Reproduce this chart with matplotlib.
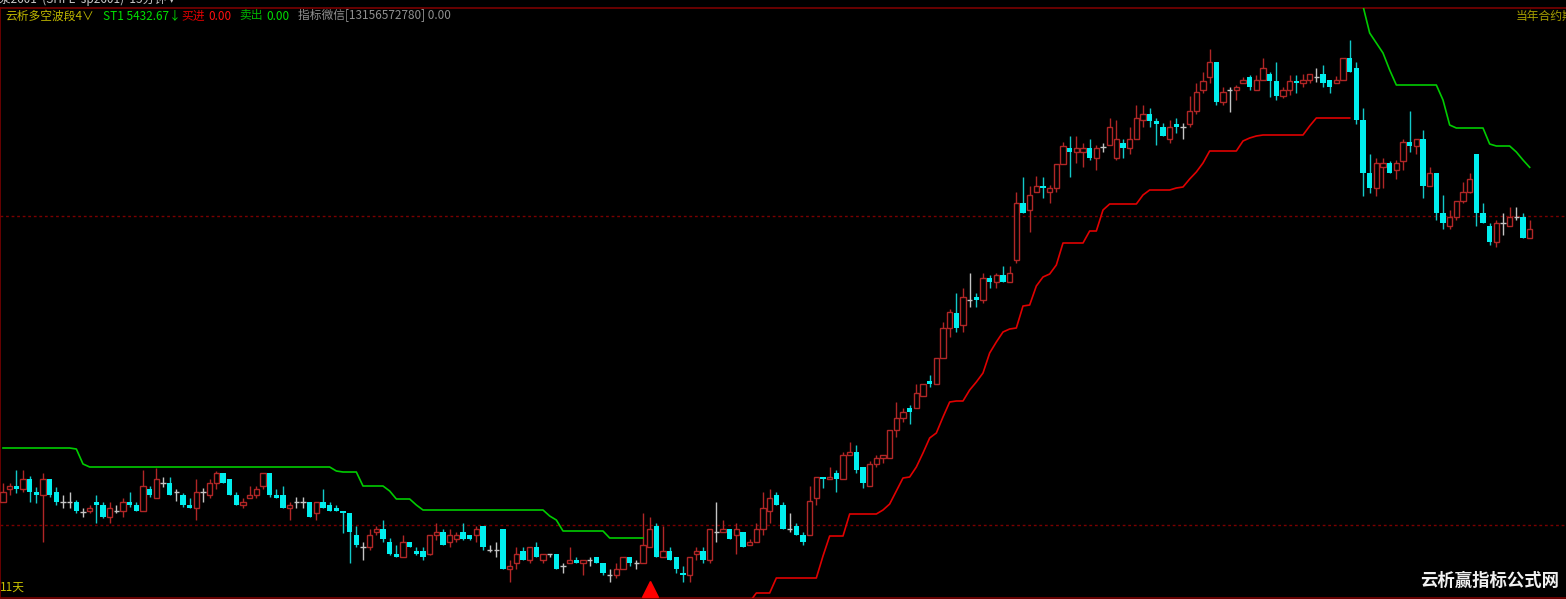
import numpy as np
import matplotlib
matplotlib.use('Agg')
from matplotlib import pyplot as plt
import matplotlib.transforms as mtransforms

plt.rcParams['font.family'] = ['Noto Sans CJK SC', 'DejaVu Sans']

# ---- 15 minute bars ----
opens = [
    5098, 5111, 5114, 5111, 5121, 5108, 5105, 5121, 5108, 5098,
    5098, 5098, 5088, 5089, 5098, 5095, 5083, 5089, 5089, 5098,
    5095, 5089, 5111, 5102, 5117, 5117, 5108, 5105, 5095, 5092,
    5108, 5105, 5117, 5127, 5121, 5105, 5095, 5102, 5105, 5114,
    5127, 5105, 5105, 5092, 5098, 5098, 5098, 5087, 5098, 5095,
    5092, 5089, 5087, 5065, 5053, 5053, 5068, 5071, 5058, 5046,
    5043, 5058, 5049, 5049, 5046, 5065, 5068, 5058, 5061, 5068,
    5065, 5065, 5074, 5050, 5050, 5071, 5031, 5037, 5049, 5040,
    5053, 5040, 5046, 5046, 5034, 5037, 5040, 5037, 5040, 5043,
    5037, 5025, 5025, 5031, 5043, 5037, 5037, 5053, 5074, 5043,
    5049, 5043, 5027, 5025, 5046, 5049, 5040, 5068, 5068, 5071,
    5065, 5068, 5055, 5058, 5071, 5089, 5105, 5095, 5071, 5074,
    5065, 5065, 5102, 5123, 5121, 5127, 5121, 5145, 5148, 5133,
    5114, 5136, 5142, 5142, 5170, 5182, 5192, 5192, 5204, 5219,
    5216, 5242, 5272, 5287, 5275, 5300, 5303, 5300, 5322, 5318,
    5325, 5318, 5340, 5397, 5390, 5408, 5414, 5408, 5412, 5436,
    5452, 5448, 5448, 5452, 5442, 5453, 5455, 5442, 5457, 5452,
    5461, 5480, 5486, 5479, 5473, 5461, 5476, 5473, 5476, 5489,
    5510, 5523, 5538, 5498, 5510, 5510, 5517, 5523, 5510, 5520,
    5526, 5519, 5504, 5510, 5519, 5517, 5520, 5523, 5526, 5520,
    5517, 5520, 5542, 5532, 5480, 5427, 5412, 5433, 5437, 5430,
    5439, 5458, 5454, 5461, 5414, 5427, 5387, 5374, 5383, 5399,
    5408, 5446, 5387, 5374, 5358, 5377, 5374, 5383, 5383, 5362,
]
highs = [
    5117, 5117, 5130, 5130, 5124, 5113, 5127, 5121, 5113, 5105,
    5108, 5100, 5092, 5095, 5105, 5098, 5098, 5095, 5102, 5108,
    5098, 5130, 5114, 5132, 5123, 5123, 5111, 5107, 5102, 5121,
    5112, 5121, 5129, 5127, 5121, 5108, 5102, 5114, 5114, 5127,
    5127, 5111, 5114, 5098, 5103, 5103, 5098, 5098, 5111, 5098,
    5095, 5089, 5087, 5074, 5058, 5071, 5074, 5080, 5062, 5055,
    5065, 5058, 5053, 5053, 5065, 5077, 5071, 5071, 5068, 5077,
    5065, 5074, 5074, 5055, 5058, 5071, 5040, 5053, 5053, 5053,
    5058, 5046, 5046, 5046, 5037, 5053, 5043, 5040, 5043, 5043,
    5037, 5031, 5037, 5043, 5043, 5040, 5087, 5083, 5077, 5074,
    5053, 5043, 5034, 5043, 5053, 5053, 5071, 5098, 5080, 5071,
    5077, 5068, 5061, 5077, 5108, 5111, 5108, 5098, 5087, 5077,
    5068, 5114, 5123, 5123, 5133, 5130, 5148, 5158, 5155, 5133,
    5139, 5145, 5145, 5170, 5198, 5192, 5195, 5216, 5216, 5225,
    5242, 5278, 5291, 5307, 5312, 5327, 5307, 5327, 5325, 5327,
    5334, 5334, 5408, 5423, 5414, 5424, 5423, 5415, 5436, 5458,
    5464, 5464, 5457, 5461, 5455, 5457, 5482, 5480, 5461, 5473,
    5495, 5495, 5492, 5482, 5477, 5480, 5482, 5477, 5504, 5517,
    5528, 5551, 5538, 5513, 5513, 5515, 5523, 5525, 5525, 5542,
    5528, 5538, 5513, 5525, 5525, 5526, 5526, 5532, 5535, 5520,
    5524, 5542, 5560, 5538, 5492, 5446, 5442, 5442, 5439, 5440,
    5461, 5489, 5461, 5470, 5433, 5427, 5405, 5390, 5399, 5418,
    5427, 5446, 5397, 5377, 5380, 5387, 5393, 5393, 5387, 5380,
]
lows = [
    5098, 5105, 5107, 5108, 5098, 5097, 5058, 5103, 5095, 5092,
    5092, 5087, 5083, 5087, 5077, 5082, 5077, 5087, 5083, 5093,
    5089, 5089, 5103, 5102, 5113, 5105, 5099, 5093, 5092, 5080,
    5098, 5102, 5111, 5117, 5105, 5095, 5092, 5102, 5102, 5111,
    5103, 5102, 5092, 5080, 5092, 5092, 5083, 5080, 5092, 5089,
    5089, 5067, 5037, 5053, 5040, 5050, 5065, 5058, 5045, 5043,
    5043, 5053, 5045, 5040, 5045, 5060, 5055, 5053, 5058, 5060,
    5060, 5058, 5050, 5048, 5043, 5031, 5018, 5031, 5040, 5037,
    5043, 5037, 5043, 5031, 5027, 5037, 5037, 5025, 5034, 5037,
    5025, 5018, 5022, 5031, 5034, 5031, 5037, 5053, 5043, 5043,
    5040, 5027, 5018, 5018, 5040, 5037, 5037, 5058, 5068, 5061,
    5046, 5053, 5055, 5058, 5065, 5077, 5095, 5071, 5068, 5065,
    5055, 5065, 5095, 5112, 5121, 5108, 5121, 5145, 5127, 5112,
    5114, 5133, 5137, 5142, 5163, 5178, 5176, 5192, 5204, 5213,
    5216, 5242, 5263, 5268, 5268, 5293, 5293, 5297, 5312, 5312,
    5318, 5318, 5337, 5387, 5368, 5408, 5402, 5397, 5408, 5436,
    5423, 5437, 5433, 5440, 5430, 5448, 5455, 5440, 5442, 5446,
    5461, 5473, 5473, 5455, 5464, 5457, 5467, 5461, 5473, 5486,
    5507, 5517, 5495, 5495, 5488, 5500, 5517, 5510, 5510, 5520,
    5503, 5500, 5502, 5505, 5507, 5513, 5517, 5518, 5513, 5507,
    5517, 5520, 5528, 5476, 5404, 5407, 5404, 5412, 5427, 5421,
    5430, 5448, 5446, 5402, 5414, 5380, 5371, 5371, 5380, 5397,
    5407, 5374, 5377, 5355, 5353, 5365, 5374, 5380, 5362, 5362,
]
closes = [
    5108, 5114, 5111, 5121, 5108, 5105, 5121, 5105, 5098, 5098,
    5098, 5089, 5088, 5092, 5095, 5083, 5092, 5089, 5098, 5095,
    5089, 5114, 5105, 5121, 5117, 5105, 5108, 5095, 5092, 5108,
    5108, 5117, 5127, 5117, 5105, 5095, 5098, 5105, 5111, 5127,
    5105, 5102, 5092, 5095, 5098, 5098, 5083, 5098, 5092, 5089,
    5089, 5087, 5068, 5055, 5053, 5065, 5071, 5061, 5046, 5043,
    5058, 5053, 5046, 5043, 5065, 5068, 5055, 5065, 5065, 5061,
    5061, 5071, 5053, 5050, 5050, 5031, 5034, 5046, 5040, 5053,
    5043, 5046, 5046, 5031, 5034, 5040, 5037, 5040, 5040, 5037,
    5027, 5025, 5031, 5043, 5037, 5037, 5055, 5071, 5043, 5049,
    5040, 5031, 5025, 5043, 5049, 5040, 5071, 5068, 5071, 5061,
    5071, 5053, 5058, 5071, 5092, 5102, 5095, 5071, 5071, 5065,
    5058, 5099, 5123, 5121, 5123, 5121, 5145, 5148, 5130, 5117,
    5136, 5142, 5145, 5170, 5182, 5188, 5188, 5207, 5216, 5216,
    5242, 5272, 5288, 5272, 5303, 5300, 5300, 5322, 5318, 5325,
    5318, 5327, 5397, 5387, 5405, 5414, 5412, 5412, 5436, 5454,
    5448, 5452, 5452, 5442, 5452, 5453, 5473, 5461, 5452, 5461,
    5482, 5486, 5479, 5476, 5464, 5473, 5473, 5473, 5489, 5508,
    5519, 5538, 5498, 5508, 5510, 5513, 5520, 5513, 5520, 5532,
    5519, 5504, 5510, 5519, 5517, 5520, 5526, 5523, 5517, 5513,
    5520, 5542, 5528, 5480, 5427, 5412, 5437, 5437, 5427, 5437,
    5458, 5454, 5461, 5414, 5427, 5387, 5377, 5383, 5399, 5408,
    5421, 5387, 5377, 5358, 5377, 5377, 5383, 5383, 5362, 5371,
]

# ---- indicator lines ----
# green stop line (bars 0-96)
dn_line_a_start = 0
dn_line_a = [
    5152, 5152, 5152, 5152, 5152, 5152, 5152, 5152, 5152, 5152,
    5152, 5151, 5136, 5133, 5133, 5133, 5133, 5133, 5133, 5133,
    5133, 5133, 5133, 5133, 5133, 5133, 5133, 5133, 5133, 5133,
    5133, 5133, 5133, 5133, 5133, 5133, 5133, 5133, 5133, 5133,
    5133, 5133, 5133, 5133, 5133, 5133, 5133, 5133, 5133, 5133,
    5129, 5128, 5128, 5128, 5114, 5114, 5114, 5114, 5109, 5101,
    5101, 5101, 5095, 5090, 5090, 5090, 5090, 5090, 5090, 5090,
    5090, 5090, 5090, 5090, 5090, 5090, 5090, 5090, 5090, 5090,
    5090, 5090, 5084, 5080, 5069, 5069, 5069, 5069, 5069, 5069,
    5069, 5062, 5062, 5062, 5062, 5062, 5062,
]
# green stop line (bars 204-229)
dn_line_b_start = 204
dn_line_b = [
    5594, 5567, 5557, 5547, 5530, 5515, 5515, 5515, 5515, 5515,
    5515, 5515, 5500, 5475, 5472, 5472, 5472, 5472, 5472, 5456,
    5454, 5454, 5454, 5448, 5440, 5432.67,
]
# red support line (bars 97-202)
up_line_start = 97
up_line = [
    4960, 4960, 4960, 4960, 4960, 4960, 4960, 4960, 4972, 4972,
    4972, 4972, 4985, 4985, 4985, 4998, 5007, 5007, 5007, 5022,
    5022, 5022, 5022, 5022, 5022, 5022, 5044, 5064, 5064, 5064,
    5086, 5086, 5086, 5086, 5086, 5090, 5096, 5109, 5122, 5123,
    5133, 5147, 5162, 5167, 5183, 5198, 5199, 5199, 5210, 5218,
    5227, 5247, 5258, 5268, 5271, 5272, 5294, 5295, 5314, 5323,
    5326, 5335, 5357, 5357, 5357, 5357, 5369, 5369, 5390, 5396,
    5396, 5396, 5396, 5396, 5405, 5410, 5410, 5410, 5410, 5412,
    5413, 5421, 5428, 5437, 5449, 5449, 5449, 5449, 5449, 5459,
    5462, 5464, 5465, 5465, 5465, 5465, 5465, 5465, 5465, 5474,
    5482, 5482, 5482, 5482, 5482, 5482,
]
buy_signal = [97]
grid_levels = [5075, 5384]

W, H = 1566, 599
RED = '#b02626'
CYAN = '#00eeee'
CYAN_W = '#12c8c8'
GRAY = '#c4c4c4'
GRID = '#7a0000'

o = np.array(opens, float)
h = np.array(highs, float)
l = np.array(lows, float)
c = np.array(closes, float)
n = len(c)
x = np.arange(n)

fig = plt.figure(figsize=(W / 100, H / 100), dpi=100, facecolor='black')
ax = fig.add_axes([0, 1.3 / H, 1, 589.7 / H])
ax.set_facecolor('black')
ax.set_xlim(-0.45, 234.45)
ax.set_ylim(5002.3, 5592)
ax.set_xticks([])
ax.set_yticks([])
for s in ['top', 'bottom', 'left']:
    ax.spines[s].set_color(GRID)
    ax.spines[s].set_linewidth(1.2)
ax.spines['right'].set_visible(False)

for lvl in grid_levels:
    ax.axhline(lvl, color=GRID, lw=1, ls=(0, (2, 2)), zorder=1)

up = c > o
dn = c < o
dj = c == o
bw = 0.78

ax.vlines(x[up], l[up], h[up], color=RED, lw=1, zorder=2)
ax.bar(x[up], (c - o)[up], bottom=o[up], width=bw, facecolor='black',
       edgecolor=RED, lw=1, zorder=3)
ax.vlines(x[dn], l[dn], h[dn], color=CYAN_W, lw=1, zorder=2)
ax.bar(x[dn], (o - c)[dn], bottom=c[dn], width=bw, color=CYAN, lw=0, zorder=3)
ax.vlines(x[dj], l[dj], h[dj], color=GRAY, lw=1, zorder=2)
ax.hlines(o[dj], x[dj] - bw / 2, x[dj] + bw / 2, color=GRAY, lw=1, zorder=3)

# indicator lines
xa = np.arange(dn_line_a_start, dn_line_a_start + len(dn_line_a))
xb = np.arange(dn_line_b_start, dn_line_b_start + len(dn_line_b))
xu = np.arange(up_line_start, up_line_start + len(up_line))
ax.plot(xa, dn_line_a, color='#00cc00', lw=1.2, zorder=4)
ax.plot(xb, dn_line_b, color='#00cc00', lw=1.2, zorder=4)
ax.plot(xu, up_line, color='#e00000', lw=1.2, zorder=4)

trans = mtransforms.blended_transform_factory(ax.transData, ax.transAxes)
ax.plot(buy_signal, [0.0145] * len(buy_signal), ls='none', marker='^',
        ms=12, color='#ff0000', mec='#ff0000', transform=trans,
        clip_on=False, zorder=5)

# ---- texts ----
def px(xp, yp):
    return xp / W, 1 - yp / H

fs = 8.5
fig.text(*px(-13, -1), '纸浆2601  (SHFE  sp2601)  15分钟 ▾', color='#c8c8c8',
         fontsize=fs, va='center', ha='left')
fig.text(*px(5, 16), '云析多空波段4∨', color='#c0b800', fontsize=fs, va='center')
fig.text(*px(103, 16), 'ST1 %.2f↓' % dn_line_b[-1], color='#00e000',
         fontsize=fs, va='center')
fig.text(*px(181, 16), '买进', color='#e00000', fontsize=fs, va='center')
fig.text(*px(208, 16), '0.00', color='#ff1010', fontsize=fs, va='center')
fig.text(*px(239, 16), '卖出', color='#00b000', fontsize=fs, va='center')
fig.text(*px(266, 16), '0.00', color='#00e000', fontsize=fs, va='center')
fig.text(*px(298, 16), '指标微信[13156572780] 0.00', color='#909090',
         fontsize=fs, va='center')
fig.text(*px(1516, 16), '当年合约期', color='#a8a000', fontsize=fs, va='center')
fig.text(*px(0, 587), '11天', color='#c8c000', fontsize=fs, va='center')
fig.text(*px(1420, 581), '云析赢指标公式网', color='#f0f0f0', fontsize=12.5,
         fontweight='bold', va='center')

fig.savefig('out.png', dpi=100, facecolor='black')
